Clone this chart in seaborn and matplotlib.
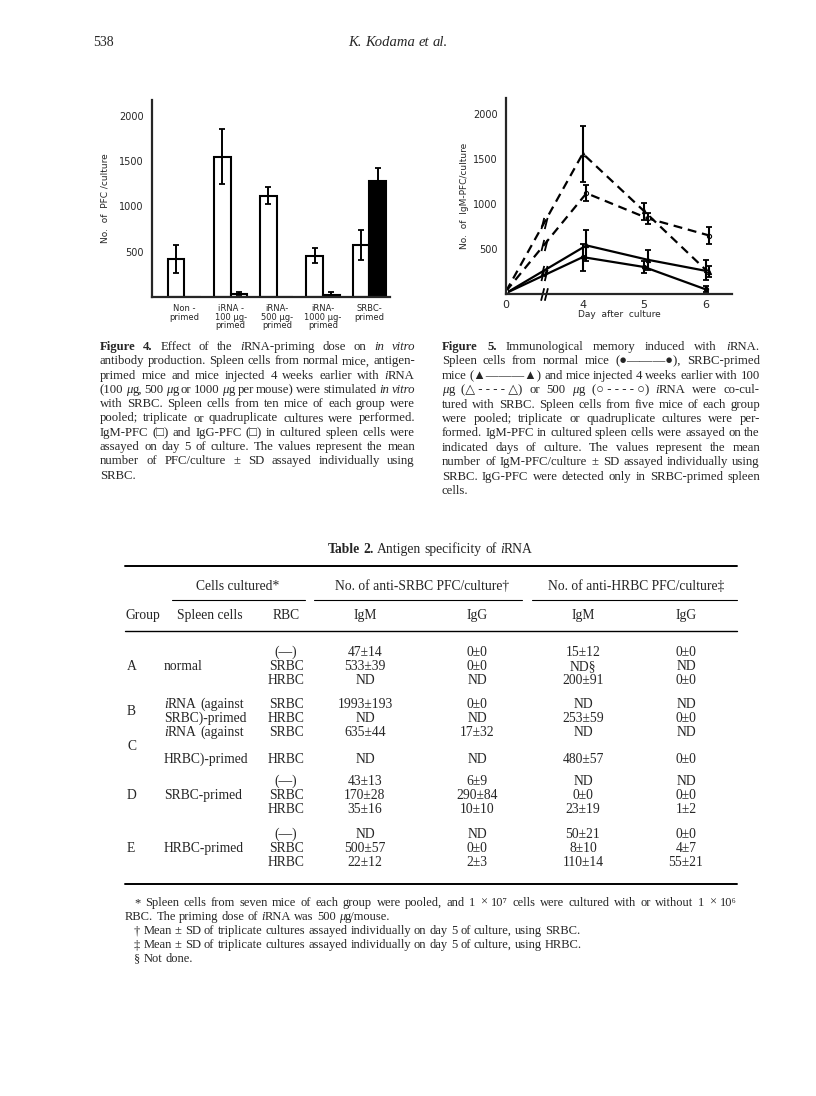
import re
import numpy as np
import pandas as pd
import matplotlib
matplotlib.use("Agg")
import matplotlib.pyplot as plt
import seaborn as sns
from matplotlib.lines import Line2D
from matplotlib.path import Path

# ==============================
# DATA
# ==============================
# Figure 4 - PFC/culture on day 5
fig4_groups = ["Non -\nprimed", "iRNA -\n100 μg-\nprimed", "iRNA-\n500 μg-\nprimed",
               "iRNA-\n1000 μg-\nprimed", "SRBC-\nprimed"]
fig4_igm = [420, 1550, 1120, 455, 575]
fig4_igm_sd = [155, 305, 90, 85, 170]
fig4_igg = [0, 35, 0, 25, 1280]
fig4_igg_sd = [0, 15, 0, 25, 145]

# Figure 5 - IgM-PFC/culture over days
fig5_days = [0, 4, 5, 6]
fig5_series = ["normal", "SRBC", "iRNA100", "iRNA500"]
fig5_normal = [10, 410, 300, 52]
fig5_normal_sd = [0, 150, 70, 33]
fig5_srbc = [10, 540, 380, 250]
fig5_srbc_sd = [0, 170, 110, 60]
fig5_irna100 = [30, 1560, 920, 270]
fig5_irna100_sd = [0, 310, 95, 110]
fig5_irna500 = [30, 1120, 840, 650]
fig5_irna500_sd = [0, 90, 60, 95]

# Table 2
tab_rbc = ["(—)", "SRBC", "HRBC", "SRBC", "HRBC", "SRBC", "HRBC",
           "(—)", "SRBC", "HRBC", "(—)", "SRBC", "HRBC"]
tab_srbc_igm = ["47±14", "533±39", "ND", "1993±193", "ND", "635±44", "ND",
                "43±13", "170±28", "35±16", "ND", "500±57", "22±12"]
tab_srbc_igg = ["0±0", "0±0", "ND", "0±0", "ND", "17±32", "ND",
                "6±9", "290±84", "10±10", "ND", "0±0", "2±3"]
tab_hrbc_igm = ["15±12", "ND§", "200±91", "ND", "253±59", "ND", "480±57",
                "ND", "0±0", "23±19", "50±21", "8±10", "110±14"]
tab_hrbc_igg = ["0±0", "ND", "0±0", "ND", "0±0", "ND", "0±0",
                "ND", "0±0", "1±2", "0±0", "4±7", "55±21"]
tab_groups = ["A", "B", "C", "D", "E"]

# ==============================
# PAGE SETUP
# ==============================
W, H = 816, 1096
sns.set_style("white")
plt.rcParams['font.family'] = ['Liberation Serif', 'DejaVu Serif', 'DejaVu Sans']
SANS = ['DejaVu Sans']

fig = plt.figure(figsize=(W / 100, H / 100), dpi=100)
renderer = fig.canvas.get_renderer()


def fx(x):
    return x / W


def fy(y):
    return 1 - y / H


def put(x, y, s, size, **kw):
    return fig.text(fx(x), fy(y), s, fontsize=size, va='baseline', **kw)


# small markup: _italic_  ~bold~
RUN = re.compile(r"~[^~]+~|_[^_]+_|[^~_]+")


def runs_of(word):
    out = []
    for m in RUN.findall(word):
        if m.startswith('~'):
            out.append((m[1:-1], dict(weight='bold')))
        elif m.startswith('_'):
            out.append((m[1:-1], dict(style='italic')))
        else:
            out.append((m, {}))
    return out


def measure(s, props, size):
    t = fig.text(0, 0, s, fontsize=size, **props)
    w = t.get_window_extent(renderer).width
    t.remove()
    return w


def draw_line(line, x0, y, size, x1=None, align='left'):
    words = [runs_of(w) for w in line.split(' ')]
    while True:
        widths = [sum(measure(t, p, size) for t, p in w) for w in words]
        space = measure('a a', {}, size) - measure('aa', {}, size)
        total = sum(widths) + space * (len(words) - 1)
        if align != 'justify' or total <= (x1 - x0) + 0.4 * space * (len(words) - 1):
            break
        size *= 0.97   # line too long - squeeze it a bit
    if align == 'justify' and len(words) > 1:
        gap = (x1 - x0 - sum(widths)) / (len(words) - 1)
        x = x0
    else:
        gap = space
        x = {'left': x0, 'center': x0 - total / 2, 'right': x0 - total}[align]
    for w, ww in zip(words, widths):
        xx = x
        for t, p in w:
            put(xx, y, t, size, **p)
            xx += measure(t, p, size)
        x += ww + gap


def paragraph(lines, x0, x1, y0, lh, size):
    for i, ln in enumerate(lines):
        last = i == len(lines) - 1
        draw_line(ln, x0, y0 + i * lh, size, x1, 'left' if last else 'justify')


def hrule(x0, x1, y, lw=0.8):
    fig.add_artist(Line2D([fx(x0), fx(x1)], [fy(y), fy(y)], transform=fig.transFigure,
                          color='black', lw=lw))


# header
put(93, 46, "538", 10)
draw_line("_K._ _Kodama_ _et_ _al._", 398, 46, 10.5, align='center')

# ==============================
# FIGURE 4 - bars
# ==============================
ax4 = fig.add_axes([fx(152), fy(297), fx(390) - fx(152), (297 - 100) / H])
df4 = pd.DataFrame({
    'group': fig4_groups * 2,
    'type': ['IgM'] * len(fig4_groups) + ['IgG'] * len(fig4_groups),
    'value': fig4_igm + fig4_igg,
})
sns.barplot(data=df4, x='group', y='value', hue='type', hue_order=['IgM', 'IgG'],
            palette={'IgM': 'white', 'IgG': 'white'}, edgecolor='black', linewidth=1.5,
            width=0.72, gap=0, errorbar=None, legend=False, ax=ax4)

# error bars on top of each bar
for cont, sds in zip(ax4.containers, [fig4_igm_sd, fig4_igg_sd]):
    for bar, sd in zip(cont, sds):
        if sd > 0:
            ax4.errorbar(bar.get_x() + bar.get_width() / 2, bar.get_height(), yerr=sd,
                         fmt='none', ecolor='black', elinewidth=1.4, capsize=2.2, capthick=1.3)
# SRBC-primed IgG bar is the black one
ax4.containers[1][fig4_groups.index("SRBC-\nprimed")].set_facecolor('black')

ax4.set_xlim(-0.7, 4.45)
ax4.set_ylim(0, 2175)
ax4.set_yticks([500, 1000, 1500, 2000])
ax4.set_xlabel("")
ax4.set_ylabel("No.  of  PFC /culture", fontsize=6.5, family=SANS, labelpad=7)
ax4.tick_params(axis='y', length=4, width=1.2, pad=2, labelsize=7)
ax4.tick_params(axis='x', length=0, pad=5, labelsize=6)
for lab in ax4.get_xticklabels() + ax4.get_yticklabels():
    lab.set_family(SANS)
    lab.set_linespacing(0.95)
for s in ['top', 'right']:
    ax4.spines[s].set_visible(False)
for s in ['left', 'bottom']:
    ax4.spines[s].set_linewidth(1.6)

# ==============================
# FIGURE 5 - lines with broken x axis
# ==============================
ax5 = fig.add_axes([fx(506), fy(294), fx(732) - fx(506), (294 - 98) / H])
DAY0_POS = 2.75   # day 0 sits left of the break
BREAK_POS = 3.37


def day_pos(d):
    return DAY0_POS if d == 0 else d


pos = np.array([day_pos(d) for d in fig5_days], dtype=float)
vals = {"normal": fig5_normal, "SRBC": fig5_srbc, "iRNA100": fig5_irna100, "iRNA500": fig5_irna500}
sds = {"normal": fig5_normal_sd, "SRBC": fig5_srbc_sd, "iRNA100": fig5_irna100_sd, "iRNA500": fig5_irna500_sd}
look = {
    "normal": dict(ls='-', marker='o', mfc='black', shift=0.0),
    "SRBC": dict(ls='-', marker='^', mfc='black', shift=0.06),
    "iRNA100": dict(ls=(0, (4, 2.6)), marker='^', mfc='white', shift=0.0),
    "iRNA500": dict(ls=(0, (4, 2.6)), marker='o', mfc='white', shift=0.06),
}
brk = Path([(-0.55, -1), (-0.05, 1), (0.05, -1), (0.55, 1)],
           [Path.MOVETO, Path.LINETO, Path.MOVETO, Path.LINETO])

for name in fig5_series:
    st = look[name]
    xs = pos + np.where(pos > DAY0_POS, st['shift'], 0)
    sns.lineplot(x=xs, y=vals[name], color='black', linestyle=st['ls'], lw=1.6,
                 marker=st['marker'], markersize=3, mfc=st['mfc'], mec='black', mew=0.8,
                 ax=ax5)
    sd = np.array(sds[name])
    keep = sd > 0
    ax5.errorbar(xs[keep], np.array(vals[name])[keep], yerr=sd[keep], fmt='none',
                 ecolor='black', elinewidth=1.5, capsize=2, capthick=1.3)
    yb = np.interp(BREAK_POS, xs[:2], vals[name][:2])
    ax5.plot([BREAK_POS], [yb], marker=brk, markersize=8, color='black', mew=1.3, ls='none')
# break on the axis itself
ax5.plot([BREAK_POS], [0], marker=brk, markersize=9, color='black', mew=1.3, ls='none',
         clip_on=False)

ax5.set_xlim(DAY0_POS, 6.43)
ax5.set_ylim(0, 2178)
ax5.set_xticks(pos)
ax5.set_xticklabels([str(d) for d in fig5_days])
ax5.set_yticks([500, 1000, 1500, 2000])
ax5.set_xlabel("Day  after  culture", fontsize=6.5, family=SANS, labelpad=0)
ax5.set_ylabel("No.  of  IgM-PFC/culture", fontsize=6.5, family=SANS, labelpad=3)
ax5.tick_params(axis='y', length=4, width=1.2, pad=2, labelsize=7)
ax5.tick_params(axis='x', length=0, pad=4, labelsize=8)
for lab in ax5.get_xticklabels() + ax5.get_yticklabels():
    lab.set_family(SANS)
for s in ['top', 'right']:
    ax5.spines[s].set_visible(False)
for s in ['left', 'bottom']:
    ax5.spines[s].set_linewidth(1.6)

# ==============================
# CAPTIONS
# ==============================
cap4 = [
    "~Figure~ ~4.~ Effect of the _i_RNA-priming dose on _in_ _vitro_",
    "antibody production. Spleen cells from normal mice, antigen-",
    "primed mice and mice injected 4 weeks earlier with _i_RNA",
    "(100 _μ_g, 500 _μ_g or 1000 _μ_g per mouse) were stimulated _in_ _vitro_",
    "with SRBC. Spleen cells from ten mice of each group were",
    "pooled; triplicate or quadruplicate cultures were performed.",
    "IgM-PFC (□) and IgG-PFC (□) in cultured spleen cells were",
    "assayed on day 5 of culture. The values represent the mean",
    "number of PFC/culture ± SD assayed individually using",
    "SRBC.",
]
cap5 = [
    "~Figure~ ~5.~ Immunological memory induced with _i_RNA.",
    "Spleen cells from normal mice (●———●), SRBC-primed",
    "mice (▲———▲) and mice injected 4 weeks earlier with 100",
    "_μ_g (△\u00a0-\u00a0-\u00a0-\u00a0-\u00a0△) or 500 _μ_g (○\u00a0-\u00a0-\u00a0-\u00a0-\u00a0○) _i_RNA were co-cul-",
    "tured with SRBC. Spleen cells from five mice of each group",
    "were pooled; triplicate or quadruplicate cultures were per-",
    "formed. IgM-PFC in cultured spleen cells were assayed on the",
    "indicated days of culture. The values represent the mean",
    "number of IgM-PFC/culture ± SD assayed individually using",
    "SRBC. IgG-PFC were detected only in SRBC-primed spleen",
    "cells.",
]
CS = 9.2
paragraph(cap4, 100, 415, 350, 14.3, CS)
paragraph(cap5, 442, 760, 350, 14.4, CS)

# ==============================
# TABLE 2
# ==============================
TS = 9.8
TL, TR = 125, 737
draw_line("~Table~ ~2.~ Antigen specificity of _i_RNA", 430, 553, TS, align='center')
hrule(TL, TR, 566, 1.4)
put(238, 590, "Cells cultured*", TS, ha='center')
put(422, 590, "No. of anti-SRBC PFC/culture†", TS, ha='center')
put(636, 590, "No. of anti-HRBC PFC/culture‡", TS, ha='center')
hrule(172, 305, 600)
hrule(314, 522, 600)
hrule(532, TR, 600)

col_x = {'rbc': 286, 'sigm': 365, 'sigg': 477, 'higm': 583, 'higg': 686}
put(TL + 1, 619, "Group", TS)
put(210, 619, "Spleen cells", TS, ha='center')
put(col_x['rbc'], 619, "RBC", TS, ha='center')
for k, lab in zip(['sigm', 'sigg', 'higm', 'higg'], ["IgM", "IgG", "IgM", "IgG"]):
    put(col_x[k], 619, lab, TS, ha='center')
hrule(TL, TR, 631, 1.0)

row_y = [656, 670, 684, 708, 722, 736, 763, 785, 799, 813, 838, 852, 866]
for i, y in enumerate(row_y):
    put(col_x['rbc'], y, tab_rbc[i], TS, ha='center')
    put(col_x['sigm'], y, tab_srbc_igm[i], TS, ha='center')
    put(col_x['sigg'], y, tab_srbc_igg[i], TS, ha='center')
    put(col_x['higm'], y, tab_hrbc_igm[i], TS, ha='center')
    put(col_x['higg'], y, tab_hrbc_igg[i], TS, ha='center')

grp_y = [670, 715, 750, 799, 852]
for g, y in zip(tab_groups, grp_y):
    put(TL + 2, y, g, TS)
SX = 164
put(SX, 670, "normal", TS)
draw_line("_i_RNA (against", SX, 708, TS)
put(SX, 722, "SRBC)-primed", TS)
draw_line("_i_RNA (against", SX, 736, TS)
put(SX, 763, "HRBC)-primed", TS)
put(SX, 799, "SRBC-primed", TS)
put(SX, 852, "HRBC-primed", TS)
hrule(TL, TR, 884, 1.4)

# footnotes
FS = 9.0
draw_line("* Spleen cells from seven mice of each group were pooled, and 1 × 10⁷ cells were cultured with or without 1 × 10⁶",
          134, 906, FS, TR, 'justify')
draw_line("RBC. The priming dose of _i_RNA was 500 _μ_g/mouse.", TL, 920, FS)
draw_line("† Mean ± SD of triplicate cultures assayed individually on day 5 of culture, using SRBC.", 134, 934, FS)
draw_line("‡ Mean ± SD of triplicate cultures assayed individually on day 5 of culture, using HRBC.", 134, 948, FS)
draw_line("§ Not done.", 134, 962, FS)

fig.savefig("out.png", dpi=100)
